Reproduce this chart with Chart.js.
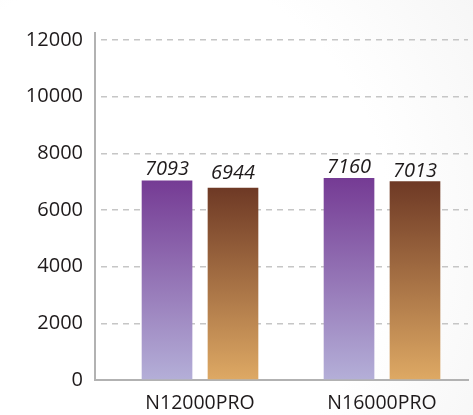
<!DOCTYPE html>
<html>
<head>
<meta charset="utf-8">
<script src="https://cdn.jsdelivr.net/npm/chart.js@4.4.0/dist/chart.umd.min.js"></script>
<style>
  html, body { margin: 0; padding: 0; }
  body {
    width: 473px; height: 415px; overflow: hidden;
    background: radial-gradient(ellipse 95% 115% at 30% 55%, #ffffff 55%, #f3f3f3 100%);
  }
  #wrap { position: relative; width: 473px; height: 415px; }
</style>
</head>
<body>
<div id="wrap"><canvas id="chart"></canvas></div>
<script>
// categories and where they sit on the x scale
const models = ['N12000PRO', 'N16000PRO'];
const modelPos = [1, 2];

// bar heights as drawn in the picture
const seriesA = [7040, 7130];
const seriesB = [6790, 7020];

// numbers printed above the bars
const printedA = [7093, 7160];
const printedB = [6944, 7013];

// y axis ticks
const yTicks = [0, 2000, 4000, 6000, 8000, 10000, 12000];

const TEXT = '#1e1a1b';
const FONT = '"Open Sans", "Noto Sans", sans-serif';

// vertical gradient per bar, dark at the top
function barFill(topColor, bottomColor) {
  return c => {
    const chart = c.chart;
    const area = chart.chartArea;
    if (!area || !c.raw) return topColor;
    const yTop = chart.scales.y.getPixelForValue(c.raw.y);
    const g = chart.ctx.createLinearGradient(0, yTop, 0, area.bottom);
    g.addColorStop(0, topColor);
    g.addColorStop(1, bottomColor);
    return g;
  };
}

// writes the printed numbers above each bar
const valueLabels = {
  id: 'valueLabels',
  afterDatasetsDraw(chart) {
    const { ctx, scales: { y } } = chart;
    ctx.save();
    ctx.font = 'italic 20px ' + FONT;
    ctx.fillStyle = TEXT;
    ctx.textAlign = 'center';
    ctx.textBaseline = 'alphabetic';
    chart.data.datasets.forEach((ds, i) => {
      chart.getDatasetMeta(i).data.forEach((bar, j) => {
        const v = ds.printed[j];
        ctx.fillText(String(v), bar.x, y.getPixelForValue(v) - 4);
      });
    });
    ctx.restore();
  }
};

const ctx = document.getElementById('chart').getContext('2d');
new Chart(ctx, {
  type: 'bar',
  data: {
    datasets: [
      {
        label: 'A',
        data: seriesA.map((v, i) => ({ x: modelPos[i], y: v })),
        printed: printedA,
        backgroundColor: barFill('#753b94', '#b4afd8')
      },
      {
        label: 'B',
        data: seriesB.map((v, i) => ({ x: modelPos[i], y: v })),
        printed: printedB,
        backgroundColor: barFill('#6e3925', '#dea964')
      }
    ]
  },
  options: {
    responsive: true,
    maintainAspectRatio: false,
    animation: false,
    layout: { padding: { top: 33, right: 5, bottom: 1, left: 0 } },
    categoryPercentage: 0.725,
    barPercentage: 0.768,
    plugins: {
      legend: { display: false },
      tooltip: { enabled: false }
    },
    scales: {
      x: {
        type: 'linear',
        offset: false,
        min: 0.423,
        max: 2.4725,
        afterBuildTicks: s => { s.ticks = modelPos.map(v => ({ value: v })); },
        afterFit: s => { s.height = 34; },
        ticks: {
          callback: v => models[modelPos.indexOf(v)] || '',
          autoSkip: false,
          maxRotation: 0,
          padding: 14,
          color: TEXT,
          font: { family: FONT, size: 19.5, lineHeight: 1 }
        },
        grid: { display: false, drawTicks: false, offset: false },
        border: { display: true, color: '#b2b2b2', width: 2 }
      },
      y: {
        min: 0,
        max: 12250,
        afterBuildTicks: s => { s.ticks = yTicks.map(v => ({ value: v })); },
        afterFit: s => { s.width = 95; },
        ticks: {
          callback: v => String(v),
          padding: 12,
          color: TEXT,
          font: { family: FONT, size: 20 }
        },
        grid: {
          drawTicks: false,
          lineWidth: 1.4,
          color: c => (c.tick && c.tick.value === 0) ? 'rgba(0,0,0,0)' : '#c6c6c6'
        },
        border: { display: true, color: '#b2b2b2', width: 2, dash: [6, 5], dashOffset: 6 }
      }
    }
  },
  plugins: [valueLabels]
});
</script>
</body>
</html>
